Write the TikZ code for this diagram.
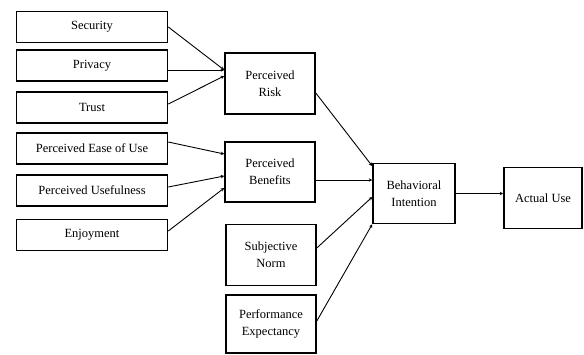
\documentclass[tikz,border=0pt]{standalone}
\usepackage{fontspec}
\setmainfont{Liberation Serif}
\usetikzlibrary{arrows.meta}
\begin{document}
\begin{tikzpicture}[
        x=1pt, y=-1pt,
        every node/.style={draw, rectangle, line width=1.6pt, align=center, inner sep=0pt, font=\fontsize{12.5}{17}\selectfont},
        factor/.style={minimum width=151pt, minimum height=31pt},
        construct/.style={minimum width=90pt, minimum height=61pt},
        link/.style={draw, line width=0.9pt, -{Stealth[length=3.5pt,width=3.5pt]}},
    ]
    \useasboundingbox (0,0) rectangle (584,354);
    % antecedents
    \node[factor](sec) at (92,27){Security};
    \node[factor](priv) at (92,65.5){Privacy};
    \node[factor](trust) at (92,107.5){Trust};
    \node[factor](peou) at (92,148.5){Perceived Ease of Use};
    \node[factor](pu) at (92,190.5){Perceived Usefulness};
    \node[factor](enj) at (92,235){Enjoyment};
    % constructs
    \node[construct](risk) at (270,83.5){Perceived\\Risk};
    \node[construct, minimum height=60pt](ben) at (270,172){Perceived\\Benefits};
    \node[construct](norm) at (271,255){Subjective\\Norm};
    \node[construct, minimum height=58pt](perf) at (271,324){Performance\\Expectancy};
    \node[construct, minimum width=82pt, minimum height=60pt](bi) at (414,193.5){Behavioral\\Intention};
    \node[construct, minimum width=78pt](use) at (543,198){Actual Use};
    % paths
    \draw[link] (sec.east) -- ([yshift=13.5pt]risk.west);
    \draw[link] ([yshift=-4.5pt]priv.east) -- ([yshift=13.5pt]risk.west);
    \draw[link] ([yshift=3.5pt]trust.east) -- ([yshift=7.5pt]risk.west);
    \draw[link] ([yshift=6.5pt]peou.east) -- ([yshift=18pt]ben.west);
    \draw[link] ([yshift=3.5pt]pu.east) -- ([yshift=-4pt]ben.west);
    \draw[link] ([yshift=4pt]enj.east) -- ([yshift=-16pt]ben.west);
    \draw[link] ([yshift=-9.5pt]risk.east) -- ([yshift=27.5pt]bi.west);
    \draw[link] ([yshift=-8pt]ben.east) -- ([yshift=13.5pt]bi.west);
    \draw[link] ([yshift=7pt]norm.east) -- ([yshift=-3.5pt]bi.west);
    \draw[link] ([yshift=3pt]perf.east) -- (bi.south west);
    \draw[link] (bi.east) -- (bi.east -| use.west);
\end{tikzpicture}
\end{document}
